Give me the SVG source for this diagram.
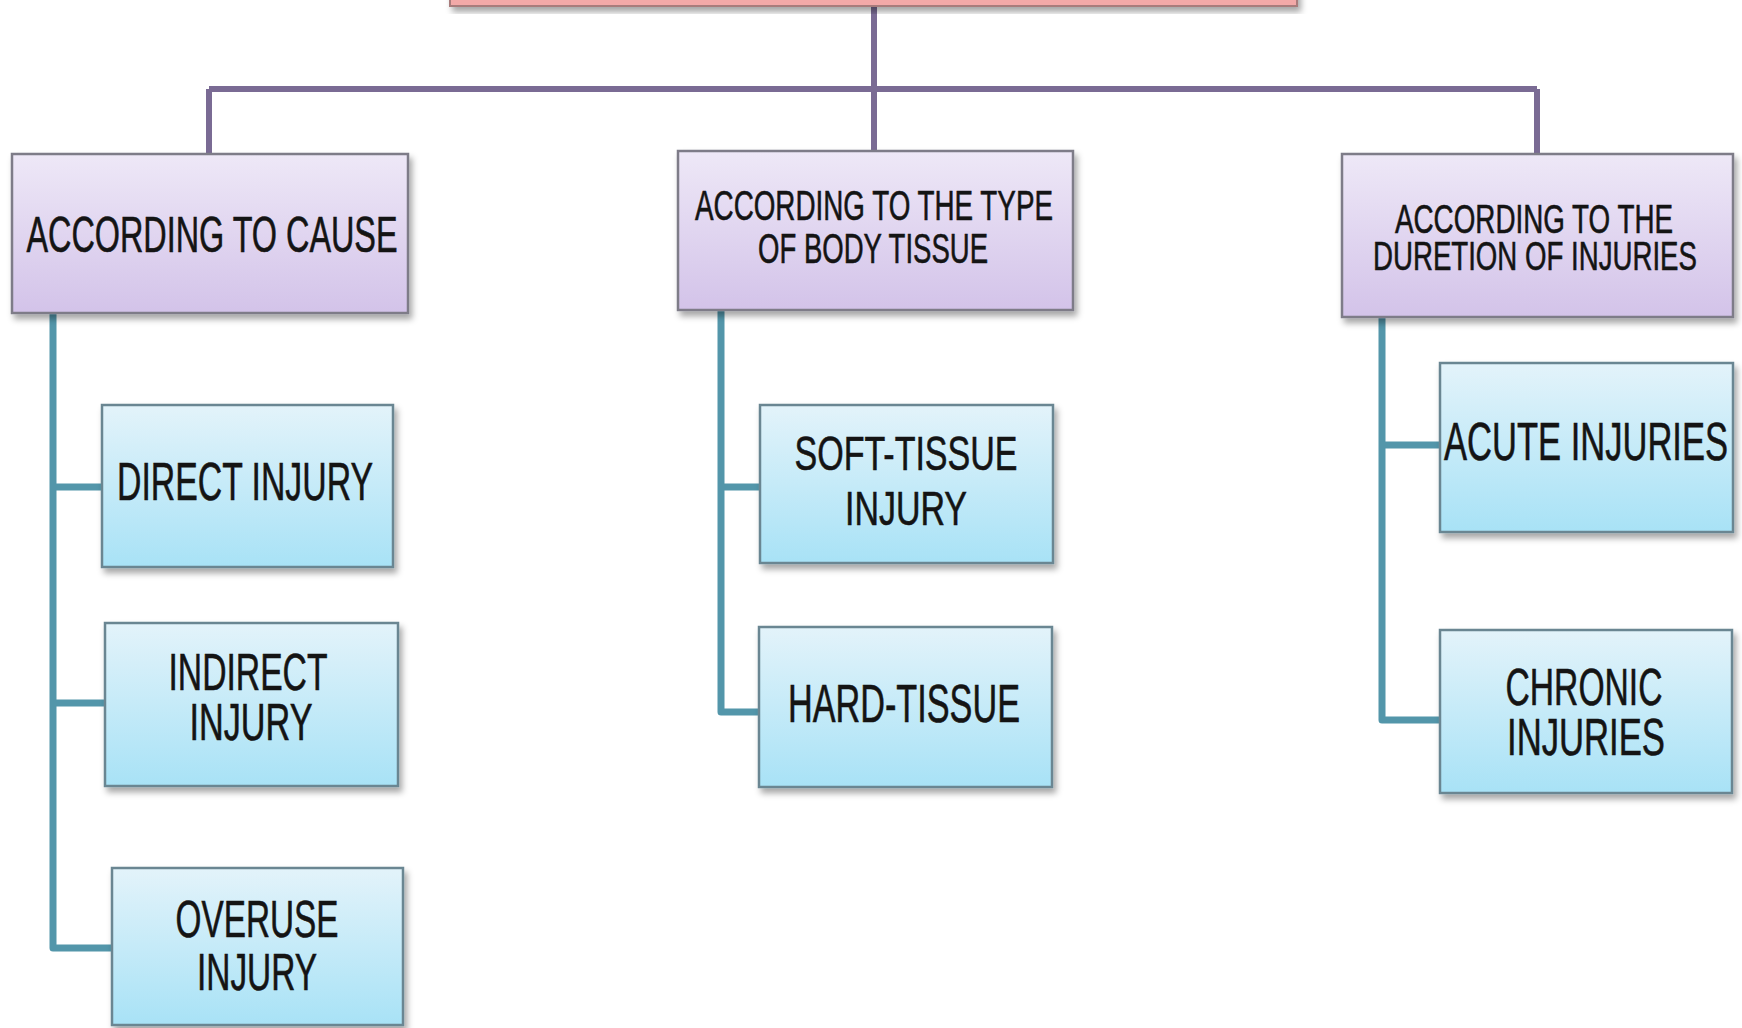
<svg xmlns="http://www.w3.org/2000/svg" width="1742" height="1028" viewBox="0 0 1742 1028">
<defs>
<linearGradient id="gPurple" x1="0" y1="0" x2="0" y2="1">
<stop offset="0" stop-color="#eee8f7"/>
<stop offset="1" stop-color="#d3c3e9"/>
</linearGradient>
<linearGradient id="gBlue" x1="0" y1="0" x2="0" y2="1">
<stop offset="0" stop-color="#e3f3fa"/>
<stop offset="1" stop-color="#a8e2f6"/>
</linearGradient>
<filter id="sh" x="-10%" y="-10%" width="125%" height="130%">
<feDropShadow dx="3" dy="5" stdDeviation="3" flood-color="#000" flood-opacity="0.35"/>
</filter>
</defs>
<style>
.pink{fill:#f2a9a8;stroke:#a87c7c;stroke-width:2}
.l2{fill:url(#gPurple);stroke:#7e7b88;stroke-width:2.5}
.l3{fill:url(#gBlue);stroke:#6a8692;stroke-width:2.5}
text{font-family:"Liberation Sans","Arial",sans-serif;fill:#141414;text-anchor:middle;stroke:#141414;stroke-width:0.6}
.purple{fill:none;stroke:#7a6b94;stroke-width:6}
.teal{fill:none;stroke:#5396aa;stroke-width:7;stroke-linejoin:round}
</style>
<rect width="1742" height="1028" fill="#ffffff"/>

<g id="connectors">
<path class="purple" d="M874 6 V151"/>
<path class="purple" d="M209 89 H1537"/>
<path class="purple" d="M209 89 V154"/>
<path class="purple" d="M1537 89 V154"/>
<path class="teal" d="M53 313 V948 H112"/>
<path class="teal" d="M53 487 H102"/>
<path class="teal" d="M53 703 H105"/>
<path class="teal" d="M721 310 V712 H759"/>
<path class="teal" d="M721 487 H760"/>
<path class="teal" d="M1382 317 V720 H1440"/>
<path class="teal" d="M1382 445 H1440"/>
</g>

<g id="root">
<rect class="pink" x="450" y="-30" width="847" height="36" filter="url(#sh)"/>
</g>

<g id="cause">
<rect class="l2" x="12" y="154" width="396" height="159" filter="url(#sh)"/>
<text x="212" y="252" font-size="50" textLength="371" lengthAdjust="spacingAndGlyphs">ACCORDING TO CAUSE</text>
</g>

<g id="tissue">
<rect class="l2" x="678" y="151" width="395" height="159" filter="url(#sh)"/>
<text x="874" y="220" font-size="42" textLength="358" lengthAdjust="spacingAndGlyphs">ACCORDING TO THE TYPE</text>
<text x="873" y="263" font-size="42" textLength="230" lengthAdjust="spacingAndGlyphs">OF BODY TISSUE</text>
</g>

<g id="duration">
<rect class="l2" x="1342" y="154" width="391" height="163" filter="url(#sh)"/>
<text x="1534" y="233" font-size="41" textLength="278" lengthAdjust="spacingAndGlyphs">ACCORDING TO THE</text>
<text x="1535" y="270" font-size="41" textLength="324" lengthAdjust="spacingAndGlyphs">DURETION OF INJURIES</text>
</g>

<g id="direct">
<rect class="l3" x="102" y="405" width="291" height="162" filter="url(#sh)"/>
<text x="245" y="500" font-size="53" textLength="256" lengthAdjust="spacingAndGlyphs">DIRECT INJURY</text>
</g>

<g id="indirect">
<rect class="l3" x="105" y="623" width="293" height="163" filter="url(#sh)"/>
<text x="248" y="690" font-size="51" textLength="159" lengthAdjust="spacingAndGlyphs">INDIRECT</text>
<text x="251" y="740" font-size="51" textLength="123" lengthAdjust="spacingAndGlyphs">INJURY</text>
</g>

<g id="overuse">
<rect class="l3" x="112" y="868" width="291" height="157" filter="url(#sh)"/>
<text x="257" y="937" font-size="52" textLength="163" lengthAdjust="spacingAndGlyphs">OVERUSE</text>
<text x="257" y="990" font-size="52" textLength="120" lengthAdjust="spacingAndGlyphs">INJURY</text>
</g>

<g id="soft">
<rect class="l3" x="760" y="405" width="293" height="158" filter="url(#sh)"/>
<text x="906" y="470" font-size="49" textLength="223" lengthAdjust="spacingAndGlyphs">SOFT-TISSUE</text>
<text x="906" y="525" font-size="49" textLength="122" lengthAdjust="spacingAndGlyphs">INJURY</text>
</g>

<g id="hard">
<rect class="l3" x="759" y="627" width="293" height="160" filter="url(#sh)"/>
<text x="904" y="722" font-size="53" textLength="232" lengthAdjust="spacingAndGlyphs">HARD-TISSUE</text>
</g>

<g id="acute">
<rect class="l3" x="1440" y="363" width="293" height="169" filter="url(#sh)"/>
<text x="1586" y="460" font-size="53" textLength="284" lengthAdjust="spacingAndGlyphs">ACUTE INJURIES</text>
</g>

<g id="chronic">
<rect class="l3" x="1440" y="630" width="292" height="163" filter="url(#sh)"/>
<text x="1584" y="705" font-size="51" textLength="157" lengthAdjust="spacingAndGlyphs">CHRONIC</text>
<text x="1586" y="755" font-size="51" textLength="158" lengthAdjust="spacingAndGlyphs">INJURIES</text>
</g>
</svg>
